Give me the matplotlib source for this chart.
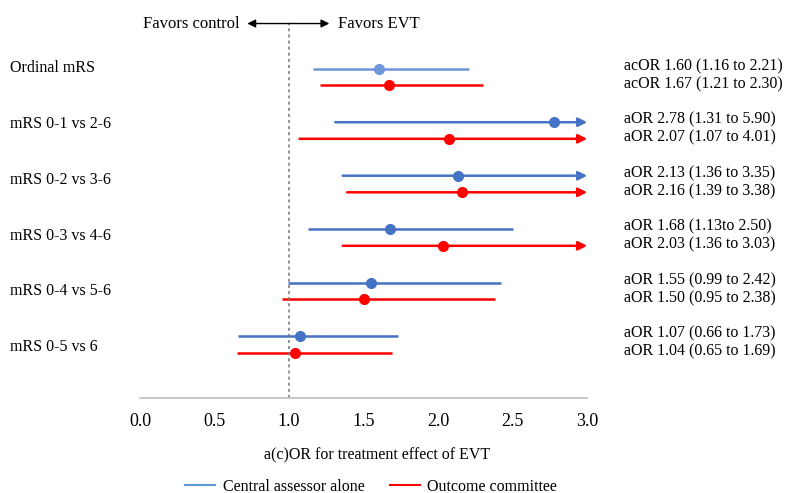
import numpy as np
import matplotlib.pyplot as plt

plt.rcParams['font.family'] = ['Liberation Serif', 'DejaVu Serif']

# data
outcomes = ['Ordinal mRS', 'mRS 0-1 vs 2-6', 'mRS 0-2 vs 3-6',
            'mRS 0-3 vs 4-6', 'mRS 0-4 vs 5-6', 'mRS 0-5 vs 6']
central_est = [1.60, 2.78, 2.13, 1.68, 1.55, 1.07]
central_lo = [1.16, 1.31, 1.36, 1.13, 0.99, 0.66]
central_hi = [2.21, 5.90, 3.35, 2.50, 2.42, 1.73]
committee_est = [1.67, 2.07, 2.16, 2.03, 1.50, 1.04]
committee_lo = [1.21, 1.07, 1.39, 1.36, 0.95, 0.65]
committee_hi = [2.30, 4.01, 3.38, 3.03, 2.38, 1.69]
central_text = ['acOR 1.60 (1.16 to 2.21)', 'aOR 2.78 (1.31 to 5.90)',
                'aOR 2.13 (1.36 to 3.35)', 'aOR 1.68 (1.13to 2.50)',
                'aOR 1.55 (0.99 to 2.42)', 'aOR 1.07 (0.66 to 1.73)']
committee_text = ['acOR 1.67 (1.21 to 2.30)', 'aOR 2.07 (1.07 to 4.01)',
                  'aOR 2.16 (1.39 to 3.38)', 'aOR 2.03 (1.36 to 3.03)',
                  'aOR 1.50 (0.95 to 2.38)', 'aOR 1.04 (0.65 to 1.69)']
xticks = [0.0, 0.5, 1.0, 1.5, 2.0, 2.5, 3.0]

XMAX = 3.0
BLUE = '#4472C4'
LIGHT_BLUE = '#6F96D8'
RED = '#FF0000'

# label placement (row units)
label_y = [-0.16, 0.88, 1.93, 2.97, 4.0, 5.05]

fig = plt.figure(figsize=(8, 4.93), dpi=100)
ax = fig.add_axes([0.175, 0.1927, 0.559, 0.803])
ax.set_xlim(0, XMAX)
ax.set_ylim(6.0, -1.4)


def draw_ci(y, est, lo, hi, color):
    if hi > XMAX:
        ax.annotate('', xy=(XMAX, y), xytext=(lo, y),
                    arrowprops=dict(arrowstyle='-|>', color=color, lw=1.8,
                                    mutation_scale=13, shrinkA=0, shrinkB=0))
    else:
        ax.plot([lo, hi], [y, y], color=color, lw=1.8, solid_capstyle='butt')
    ax.plot(est, y, 'o', color=color, ms=7)


off = 0.155
for i in range(len(outcomes)):
    bcol = LIGHT_BLUE if i == 0 else BLUE
    draw_ci(i - off, central_est[i], central_lo[i], central_hi[i], bcol)
    draw_ci(i + off, committee_est[i], committee_lo[i], committee_hi[i], RED)
    ax.text(-0.29, label_y[i], outcomes[i], transform=ax.get_yaxis_transform(),
            ha='left', va='center', fontsize=11.5)
    ax.text(1.083, i - off - 0.05, central_text[i], transform=ax.get_yaxis_transform(),
            ha='left', va='center', fontsize=11.5)
    ax.text(1.083, i + off - 0.02, committee_text[i], transform=ax.get_yaxis_transform(),
            ha='left', va='center', fontsize=11.5)

# reference line at 1
ax.plot([1, 1], [6.0, -1.0], color='#777777', lw=1.1, ls=(0, (2, 2)))

# favors arrows
ax.annotate('', xy=(0.72, -1.0), xytext=(1.0, -1.0),
            arrowprops=dict(arrowstyle='-|>', color='black', lw=1, mutation_scale=12,
                            shrinkA=0, shrinkB=0))
ax.annotate('', xy=(1.27, -1.0), xytext=(1.0, -1.0),
            arrowprops=dict(arrowstyle='-|>', color='black', lw=1, mutation_scale=12,
                            shrinkA=0, shrinkB=0))
ax.text(0.67, -1.0, 'Favors control', ha='right', va='center', fontsize=12)
ax.text(1.33, -1.0, 'Favors EVT', ha='left', va='center', fontsize=12)

for s in ['top', 'left', 'right']:
    ax.spines[s].set_visible(False)
ax.spines['bottom'].set_color('#BFBFBF')
ax.spines['bottom'].set_linewidth(1.2)
ax.set_yticks([])
ax.set_xticks(xticks)
ax.set_xticklabels([f'{t:.1f}' for t in xticks], fontsize=13)
ax.tick_params(axis='x', length=0, pad=11)
ax.set_xlabel('a(c)OR for treatment effect of EVT', fontsize=11.5)
ax.xaxis.set_label_coords(0.53, -0.126)

h1, = ax.plot([], [], color='#5B9BD5', lw=1.5, label='Central assessor alone')
h2, = ax.plot([], [], color=RED, lw=1.5, label='Outcome committee')
fig.legend(handles=[h1, h2], loc='center', bbox_to_anchor=(0.464, 0.013),
           ncol=2, frameon=False, fontsize=11.5, handlelength=1.9,
           handletextpad=0.45, columnspacing=1.6, borderaxespad=0, borderpad=0)

fig.savefig('out.png', dpi=100)
